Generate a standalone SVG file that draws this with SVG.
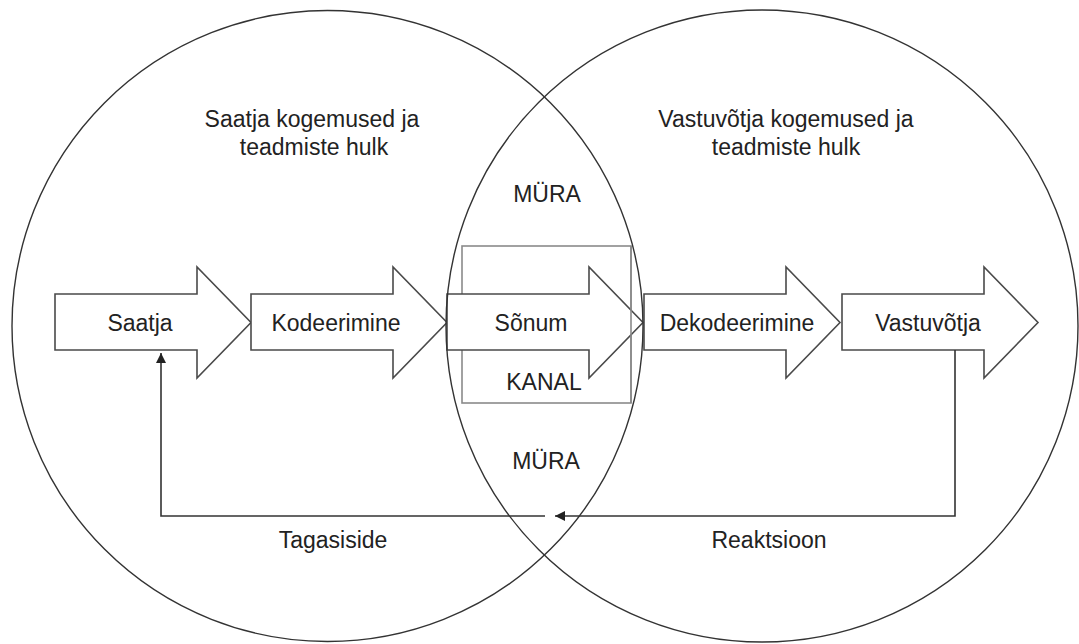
<svg xmlns="http://www.w3.org/2000/svg" width="1079" height="644" viewBox="0 0 1079 644">
<style>
.bg{fill:#fff}
.arrow{fill:#fff;stroke:#4a4a4a;stroke-width:1.6}
.circle{fill:none;stroke:#333;stroke-width:1.4}
.box{fill:none;stroke:#8a8a8a;stroke-width:1.6}
.conn{fill:none;stroke:#333;stroke-width:1.6}
text{font-family:"Liberation Sans",Arial,sans-serif;font-size:23px;fill:#222;text-anchor:middle}
</style>
<defs>
<path id="arr" d="M0,294 H142 V267 L196,322.5 L142,378 V350 H0 Z"/>
<marker id="head" markerUnits="userSpaceOnUse" markerWidth="12" markerHeight="10" refX="10" refY="5" orient="auto">
<path d="M0,0 L10,5 L0,10 Z" fill="#222"/>
</marker>
</defs>
<rect class="bg" x="0" y="0" width="1079" height="644"/>
<g id="kanal">
<rect class="box" x="462" y="246" width="169" height="157"/>
</g>
<g id="saatja">
<use href="#arr" class="arrow" transform="translate(55,0)"/>
<text x="140" y="331">Saatja</text>
</g>
<g id="kodeerimine">
<use href="#arr" class="arrow" transform="translate(251,0)"/>
<text x="336" y="331">Kodeerimine</text>
</g>
<g id="sonum">
<use href="#arr" class="arrow" transform="translate(447,0)"/>
<text x="531" y="331">Sõnum</text>
</g>
<g id="kanal-edge">
<line class="box" x1="631" y1="246" x2="631" y2="403"/>
<text x="544" y="390">KANAL</text>
</g>
<g id="dekodeerimine">
<use href="#arr" class="arrow" transform="translate(644,0)"/>
<text x="737" y="331">Dekodeerimine</text>
</g>
<g id="vastuvotja">
<use href="#arr" class="arrow" transform="translate(842,0)"/>
<text x="928" y="331">Vastuvõtja</text>
</g>
<g id="saatja-ring">
<circle class="circle" cx="327.5" cy="326" r="315.5"/>
<text x="312" y="127">Saatja kogemused ja</text>
<text x="314" y="155">teadmiste hulk</text>
</g>
<g id="vastuvotja-ring">
<circle class="circle" cx="762" cy="326" r="316"/>
<text x="786" y="127">Vastuvõtja kogemused ja</text>
<text x="786" y="155">teadmiste hulk</text>
</g>
<g id="mura">
<text x="547" y="202">MÜRA</text>
<text x="546" y="469">MÜRA</text>
</g>
<g id="connectors">
<polyline class="conn" points="545,516 161,516 161,353" marker-end="url(#head)"/>
<polyline class="conn" points="955,350 955,516 555,516" marker-end="url(#head)"/>
<text x="333" y="548">Tagasiside</text>
<text x="769" y="548">Reaktsioon</text>
</g>
</svg>
